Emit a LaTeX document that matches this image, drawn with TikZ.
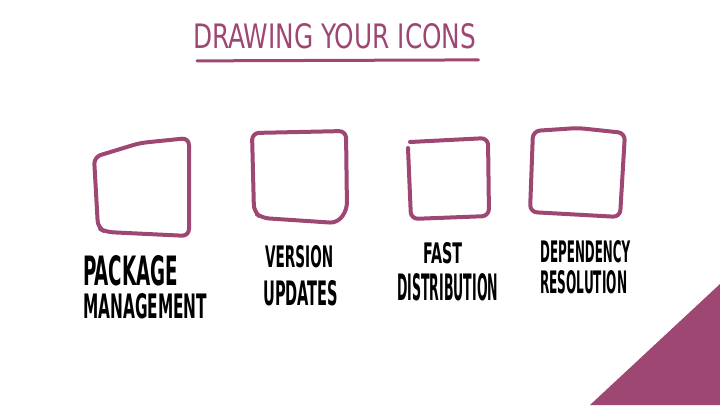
\documentclass[tikz,border=0pt]{standalone}
\usepackage{fontspec}
\setsansfont{DejaVu Sans Condensed}
\usepackage{graphicx}
\definecolor{plum}{HTML}{9E4773}
% squeeze a word into a given width and cap height
\def\hand#1#2#3{\resizebox{#1pt}{#2pt}{\sffamily #3}}

\begin{document}
\begin{tikzpicture}[x=1pt, y=-1pt,
    iconbox/.style={draw=plum, line width=4pt, line cap=round, line join=round, rounded corners=7pt},
    caption/.style={anchor=north west, inner sep=0pt, text=black, font=\bfseries}]
  \useasboundingbox (0,0) rectangle (720,405);

  % heading
  \node[anchor=north west, inner sep=0pt, text=plum] (title) at (193,23) {\hand{283}{25}{DRAWING YOUR ICONS}};
  \draw[plum, line width=3pt, line cap=round] ([shift={(4,12)}]title.south west) -- ([shift={(2,11)}]title.south east);

  % the four empty icon frames
  \draw[iconbox] (98,228) -- (94,157) -- (140,143) -- (189,138) -- (189,236) -- (106,232) -- cycle;
  \draw[iconbox] (254,212) -- (252,133) -- (346,131) -- (347,210) -- (337,223) -- (262,218) -- cycle;
  \draw[iconbox] (410,142) -- (488,138) -- (489,216) -- (411,219) -- (408,148);
  \draw[iconbox] (530,212) -- (533,131) -- (578,128) -- (625,133) -- (620,217) -- cycle;

  % captions
  \foreach \n/\x/\y/\w/\h/\t in {pkg/83/255/95/30/PACKAGE, mgmt/83/293/124/25/MANAGEMENT,
      ver/265/245/68/22/VERSION, upd/263/280/75/25/UPDATES,
      fast/423/242/39/21/FAST, dist/397/273/101/27/DISTRIBUTION,
      dep/540/240/90/22/DEPENDENCY, res/540/270/87/23/RESOLUTION}
    \node[caption] (\n) at (\x,\y) {\hand{\w}{\h}{\t}};

  % corner flash
  \fill[plum] (590,405) -- (720,284) -- (720,405) -- cycle;
\end{tikzpicture}
\end{document}
